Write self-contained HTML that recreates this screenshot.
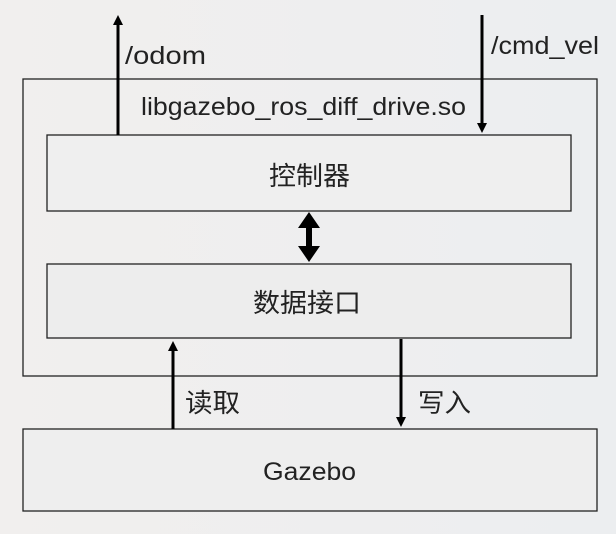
<!DOCTYPE html>
<html><head><meta charset="utf-8"><style>
html,body{margin:0;padding:0}
body{width:616px;height:529px;background:linear-gradient(90deg,#f1efee 0%,#eceef0 100%);overflow:hidden}
svg text{font-family:"Liberation Sans","Noto Sans CJK SC",sans-serif;fill:#222;font-size:25px}
svg text.c{font-size:26px}
</style></head><body>
<svg width="616" height="529" xmlns="http://www.w3.org/2000/svg">
<defs><marker id="a" markerWidth="10" markerHeight="10" refX="5" refY="5" orient="auto-start-reverse" markerUnits="userSpaceOnUse"><path d="M0,0 L10,5 L0,10 z" fill="#000"/></marker></defs>
<g fill="none" stroke="#222" stroke-width="1.3">
<rect x="23" y="79" width="574" height="297"/>
<rect x="47" y="135" width="524" height="76" fill="#efefef"/>
<rect x="47" y="264" width="524" height="74" fill="#ededed"/>
<rect x="23" y="429" width="574" height="82" fill="#eeeeee"/>
</g>
<g stroke="#000" stroke-width="3">
<line x1="118" y1="135" x2="118" y2="20" marker-end="url(#a)"/>
<line x1="482" y1="15" x2="482" y2="128" marker-end="url(#a)"/>
<line x1="173" y1="429" x2="173" y2="346" marker-end="url(#a)"/>
<line x1="401" y1="339" x2="401" y2="422" marker-end="url(#a)"/>
<line x1="309" y1="225" x2="309" y2="250" stroke-width="6"/>
</g>
<path d="M309,212 L320,228 L298,228 z M309,262 L320,246 L298,246 z" fill="#000"/>
<text x="125" y="64" textLength="81" lengthAdjust="spacingAndGlyphs">/odom</text>
<text x="491" y="54" textLength="108" lengthAdjust="spacingAndGlyphs">/cmd_vel</text>
<text x="141" y="115" textLength="325" lengthAdjust="spacingAndGlyphs">libgazebo_ros_diff_drive.so</text>
<text class="c" x="269" y="185" textLength="81" lengthAdjust="spacingAndGlyphs">控制器</text>
<text class="c" x="253" y="312" textLength="108" lengthAdjust="spacingAndGlyphs">数据接口</text>
<text class="c" x="185" y="412" textLength="55" lengthAdjust="spacingAndGlyphs">读取</text>
<text class="c" x="418" y="412" textLength="53" lengthAdjust="spacingAndGlyphs">写入</text>
<text x="263" y="480" textLength="93" lengthAdjust="spacingAndGlyphs">Gazebo</text>
</svg>
</body></html>
